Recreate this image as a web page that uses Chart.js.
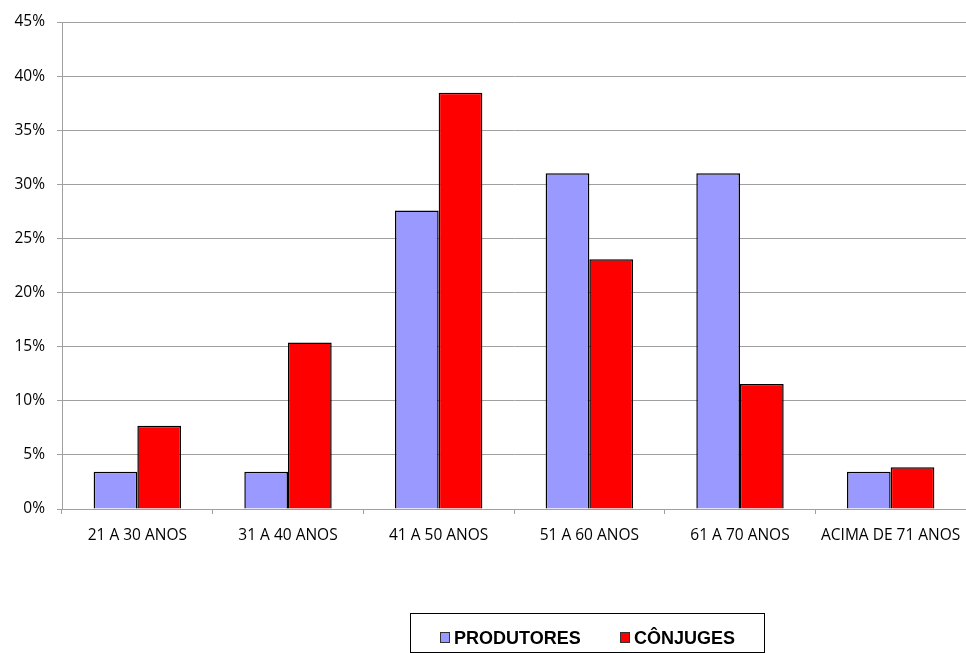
<!DOCTYPE html>
<html>
<head>
<meta charset="utf-8">
<script src="https://cdn.jsdelivr.net/npm/chart.js@4"></script>
<style>
html,body{margin:0;padding:0;background:#fff;}
#wrap{width:966px;height:653px;position:relative;}
</style>
</head>
<body>
<div id="wrap"><canvas id="c" width="966" height="653"></canvas></div>
<script>
const categories = ["21 A 30 ANOS", "31 A 40 ANOS", "41 A 50 ANOS", "51 A 60 ANOS", "61 A 70 ANOS", "ACIMA DE 71 ANOS"];
const produtores = [3.45, 3.45, 27.59, 31.03, 31.03, 3.45];
const conjuges = [7.69, 15.38, 38.46, 23.08, 11.54, 3.85];
const seriesNames = ["PRODUTORES", "CÔNJUGES"];
const seriesColors = ["#9999FF", "#FF0000"];

const legendBox = {
  id: 'legendBox',
  afterDraw(chart) {
    const ctx = chart.ctx;
    ctx.save();
    ctx.strokeStyle = '#000';
    ctx.lineWidth = 1;
    ctx.strokeRect(410.5, 613.5, 354, 39);
    ctx.font = 'bold 18px "Liberation Sans", Arial, sans-serif';
    ctx.textBaseline = 'middle';
    const xs = [440, 620];
    chart.data.datasets.forEach((ds, i) => {
      const x = xs[i];
      ctx.fillStyle = ds.backgroundColor;
      ctx.fillRect(x, 632, 10, 11);
      ctx.strokeStyle = '#333';
      ctx.strokeRect(x + 0.5, 632.5, 9, 10);
      ctx.fillStyle = '#000';
      ctx.fillText(ds.label, x + 14, 639);
    });
    ctx.restore();
  }
};

new Chart(document.getElementById('c'), {
  type: 'bar',
  data: {
    labels: categories,
    datasets: [
      {label: seriesNames[0], data: produtores, backgroundColor: seriesColors[0], borderColor: '#000', borderWidth: 1.5, borderSkipped: 'start'},
      {label: seriesNames[1], data: conjuges, backgroundColor: seriesColors[1], borderColor: '#000', borderWidth: 1.5, borderSkipped: 'start'}
    ]
  },
  options: {
    responsive: false,
    animation: false,
    devicePixelRatio: 1,
    categoryPercentage: 0.58,
    barPercentage: 1,
    layout: {padding: {top: 22, right: 0, left: 0, bottom: 0}},
    plugins: {legend: {display: false}, tooltip: {enabled: false}},
    scales: {
      x: {
        grid: {display: true, drawOnChartArea: false, color: '#A0A0A0', tickLength: 5, offset: true},
        border: {color: '#A0A0A0'},
        ticks: {color: '#000', font: {family: '"Open Sans", sans-serif', size: 15.5}, padding: 12, maxRotation: 0, autoSkip: false},
        afterFit(s) { s.height = 144; s.paddingLeft = 0; s.paddingRight = 0; }
      },
      y: {
        min: 0, max: 45,
        grid: {color: '#A0A0A0', tickLength: 5},
        border: {color: '#A0A0A0'},
        ticks: {stepSize: 5, color: '#000', font: {family: '"Open Sans", sans-serif', size: 15.5}, padding: 12, callback: v => v + '%'},
        afterFit(s) { s.width = 62; }
      }
    }
  },
  plugins: [legendBox]
});
</script>
</body>
</html>
